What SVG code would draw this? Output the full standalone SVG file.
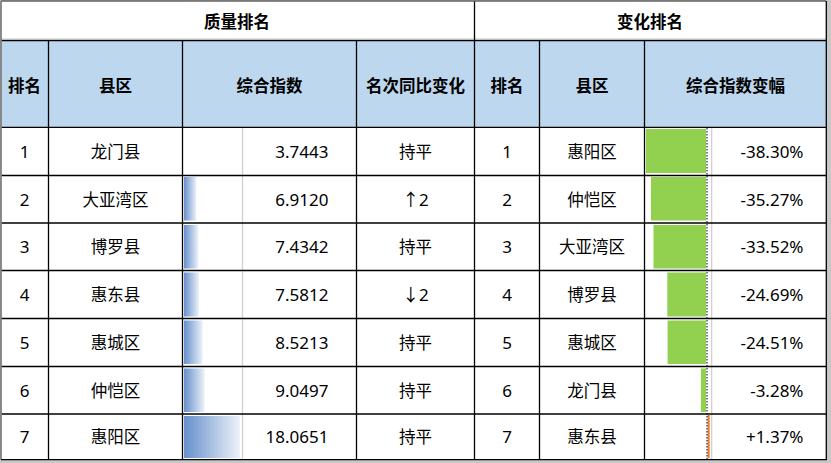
<svg xmlns="http://www.w3.org/2000/svg" width="831" height="463" viewBox="0 0 831 463">
<style>
.ln{stroke:#000;stroke-width:1.3;fill:none}
.lg{stroke:#D0D0D0;stroke-width:1.3;fill:none}
.t{font-family:"Noto Sans CJK SC",sans-serif;font-size:16.5px;font-weight:bold;text-anchor:middle;fill:#000}
.c{font-family:"Noto Sans CJK SC",sans-serif;font-size:16.5px;text-anchor:middle;fill:#000}
.n{font-family:"Noto Sans","Noto Sans CJK SC",sans-serif;font-size:17px;text-anchor:end;fill:#000}
.r{font-family:"Noto Sans","Noto Sans CJK SC",sans-serif;font-size:17px;text-anchor:middle;fill:#000}
.gb{fill:#92D050}
.bb{fill:url(#bg)}
</style>
<defs>
<linearGradient id="bg" x1="0" y1="0" x2="1" y2="0">
<stop offset="0" stop-color="#6690CC"/>
<stop offset="1" stop-color="#EEF2F9"/>
</linearGradient>
</defs>
<rect x="0" y="0" width="831" height="463" fill="#C8C8C8"/>
<rect x="1" y="1" width="825.5" height="458.5" fill="#fff"/>
<rect x="1" y="41" width="825.5" height="86" fill="#BDD7EE"/>

<g id="score-bars">
<rect class="bb" x="184" y="177" width="12.4" height="43.5"/>
<rect class="bb" x="184" y="225" width="14.4" height="43.5"/>
<rect class="bb" x="184" y="272.5" width="15" height="44"/>
<rect class="bb" x="184" y="320.5" width="18.7" height="43.5"/>
<rect class="bb" x="184" y="368.5" width="20.7" height="43.5"/>
<rect class="bb" x="184" y="416" width="56" height="42"/>
</g>
<g id="change-bars">
<rect class="gb" x="646" y="129" width="60" height="44"/>
<rect class="gb" x="651" y="177" width="55" height="43.5"/>
<rect class="gb" x="653.5" y="225" width="52.5" height="43.5"/>
<rect class="gb" x="667.3" y="272.5" width="38.7" height="44"/>
<rect class="gb" x="667.6" y="320.5" width="38.4" height="43.5"/>
<rect class="gb" x="700.9" y="368.5" width="5.1" height="43.5"/>
<rect x="707.6" y="415" width="2.1" height="43" fill="#ED7D31"/>
</g>

<g id="connectors">
<line class="lg" x1="242.5" y1="128" x2="242.5" y2="459"/>
<line class="lg" x1="711.7" y1="128" x2="711.7" y2="459"/>
<line x1="707" y1="128" x2="707" y2="459" stroke="#000" stroke-width="1" stroke-dasharray="1.5 1.5"/>
<line x1="1" y1="39.2" x2="826" y2="39.2" stroke="#A0A0A0" stroke-width="1"/>
<line class="ln" x1="1" y1="40.6" x2="826" y2="40.6" stroke-width="1.6"/>
<line class="ln" x1="1" y1="127.3" x2="826" y2="127.3" stroke-width="1.6"/>
<line class="ln" x1="1" y1="175.5" x2="826" y2="175.5"/>
<line class="ln" x1="1" y1="223" x2="826" y2="223"/>
<line class="ln" x1="1" y1="270.5" x2="826" y2="270.5"/>
<line class="ln" x1="1" y1="318.5" x2="826" y2="318.5"/>
<line class="ln" x1="1" y1="366.5" x2="826" y2="366.5"/>
<line class="ln" x1="1" y1="414" x2="826" y2="414"/>
<line class="ln" x1="48.5" y1="40" x2="48.5" y2="459.5"/>
<line class="ln" x1="182.5" y1="40" x2="182.5" y2="459.5"/>
<line class="ln" x1="356.5" y1="40" x2="356.5" y2="459.5"/>
<line class="ln" x1="474.5" y1="1" x2="474.5" y2="459.5"/>
<line class="ln" x1="539.5" y1="40" x2="539.5" y2="459.5"/>
<line class="ln" x1="644.5" y1="40" x2="644.5" y2="459.5"/>
<line x1="1" y1="1" x2="826" y2="1" stroke="#606060" stroke-width="1.4"/>
<line x1="1" y1="1" x2="1" y2="459.5" stroke="#808080" stroke-width="1.8"/>
<line class="ln" x1="826.3" y1="1" x2="826.3" y2="460" stroke-width="1.6"/>
<line class="ln" x1="1" y1="459.6" x2="827" y2="459.6" stroke-width="1.6"/>
</g>

<g id="titles">
<text class="t" x="237" y="27.5">质量排名</text>
<text class="t" x="650" y="27.5">变化排名</text>
</g>
<g id="header">
<text class="t" x="24.5" y="91.5">排名</text>
<text class="t" x="115.5" y="91.5">县区</text>
<text class="t" x="269.5" y="91.5">综合指数</text>
<text class="t" x="415.5" y="91.5">名次同比变化</text>
<text class="t" x="507" y="91.5">排名</text>
<text class="t" x="592" y="91.5">县区</text>
<text class="t" x="735.5" y="91.5">综合指数变幅</text>
</g>

<g id="row1">
<text class="r" x="24.5" y="157.5">1</text>
<text class="c" x="115.5" y="157.5">龙门县</text>
<text class="n" x="328.5" y="157.5">3.7443</text>
<text class="c" x="415.5" y="157.5">持平</text>
<text class="r" x="507" y="157.5">1</text>
<text class="c" x="592" y="157.5">惠阳区</text>
<text class="n" x="803.5" y="157.5">-38.30%</text>
</g>
<g id="row2">
<text class="r" x="24.5" y="205.5">2</text>
<text class="c" x="115.5" y="205.5">大亚湾区</text>
<text class="n" x="328.5" y="205.5">6.9120</text>
<text class="r" x="415.5" y="205.5">↑2</text>
<text class="r" x="507" y="205.5">2</text>
<text class="c" x="592" y="205.5">仲恺区</text>
<text class="n" x="803.5" y="205.5">-35.27%</text>
</g>
<g id="row3">
<text class="r" x="24.5" y="253">3</text>
<text class="c" x="115.5" y="253">博罗县</text>
<text class="n" x="328.5" y="253">7.4342</text>
<text class="c" x="415.5" y="253">持平</text>
<text class="r" x="507" y="253">3</text>
<text class="c" x="592" y="253">大亚湾区</text>
<text class="n" x="803.5" y="253">-33.52%</text>
</g>
<g id="row4">
<text class="r" x="24.5" y="300.5">4</text>
<text class="c" x="115.5" y="300.5">惠东县</text>
<text class="n" x="328.5" y="300.5">7.5812</text>
<text class="r" x="415.5" y="300.5">↓2</text>
<text class="r" x="507" y="300.5">4</text>
<text class="c" x="592" y="300.5">博罗县</text>
<text class="n" x="803.5" y="300.5">-24.69%</text>
</g>
<g id="row5">
<text class="r" x="24.5" y="348.5">5</text>
<text class="c" x="115.5" y="348.5">惠城区</text>
<text class="n" x="328.5" y="348.5">8.5213</text>
<text class="c" x="415.5" y="348.5">持平</text>
<text class="r" x="507" y="348.5">5</text>
<text class="c" x="592" y="348.5">惠城区</text>
<text class="n" x="803.5" y="348.5">-24.51%</text>
</g>
<g id="row6">
<text class="r" x="24.5" y="396.5">6</text>
<text class="c" x="115.5" y="396.5">仲恺区</text>
<text class="n" x="328.5" y="396.5">9.0497</text>
<text class="c" x="415.5" y="396.5">持平</text>
<text class="r" x="507" y="396.5">6</text>
<text class="c" x="592" y="396.5">龙门县</text>
<text class="n" x="803.5" y="396.5">-3.28%</text>
</g>
<g id="row7">
<text class="r" x="24.5" y="443">7</text>
<text class="c" x="115.5" y="443">惠阳区</text>
<text class="n" x="328.5" y="443">18.0651</text>
<text class="c" x="415.5" y="443">持平</text>
<text class="r" x="507" y="443">7</text>
<text class="c" x="592" y="443">惠东县</text>
<text class="n" x="803.5" y="443">+1.37%</text>
</g>
</svg>
